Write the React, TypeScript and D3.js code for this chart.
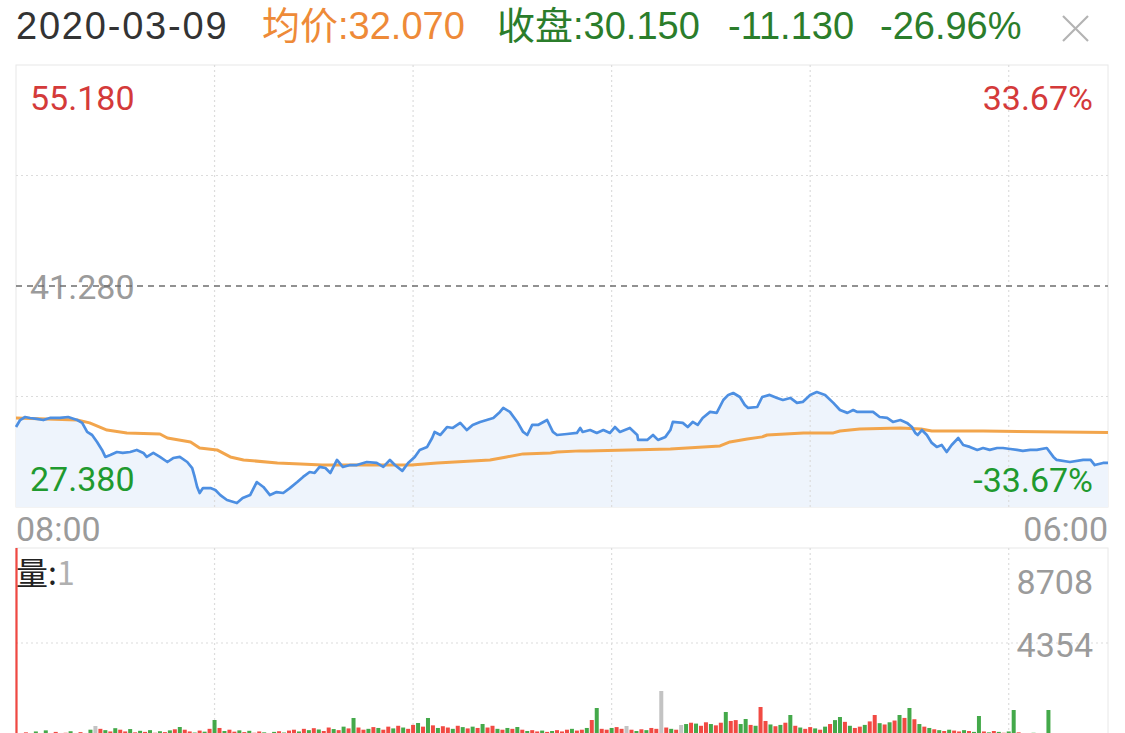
import React from 'react';
import * as d3 from 'd3';

// ---------- header values ----------
const headerDate = '2020-03-09';
const avgLabel = '均价:32.070';
const closeLabel = '收盘:30.150';
const changeLabel = '-11.130';
const pctLabel = '-26.96%';

// ---------- axis / tick labels ----------
const prevClose = 41.28;
const priceMax = 55.18;
const priceMin = 27.38;
const priceTickLabels = ['55.180', '41.280', '27.380'];
const pctTickLabels = ['33.67%', '-33.67%'];
const timeLabels = ['08:00', '06:00'];
const totalMinutes = 1320; // 08:00 -> 06:00 next day
const gridMinutes = [240, 480, 720, 960, 1200];
const volMax = 8708;
const volTickLabels = ['8708', '4354'];

// ---------- price series (minutes since 08:00, price) ----------
const priceMinutes = [0,5,11,17,25,33,41,53,63,74,80,86,92,98,104,108,114,122,129,138,146,154,158,166,174,183,190,198,207,213,216,219,222,226,235,241,247,255,267,274,283,291,299,307,315,323,331,340,347,355,361,367,374,380,388,395,404,412,424,436,444,452,458,467,474,482,488,497,503,506,513,521,528,537,545,552,561,569,577,585,589,597,606,613,618,624,631,642,649,654,666,678,682,685,694,702,710,718,724,730,742,751,752,763,770,776,785,791,794,806,812,818,824,830,839,847,855,861,867,875,881,885,896,902,911,920,927,936,944,951,960,968,978,988,996,1005,1012,1017,1024,1036,1044,1053,1060,1069,1077,1083,1087,1090,1095,1101,1107,1113,1119,1125,1131,1139,1145,1153,1162,1169,1177,1186,1193,1202,1210,1217,1226,1234,1246,1254,1258,1274,1290,1299,1304,1314,1320];
const prices = [32.41,32.85,33.04,32.98,32.92,32.85,32.98,32.98,33.04,32.85,32.67,32.10,31.91,31.47,30.97,30.53,30.65,30.84,30.78,30.84,30.97,30.78,30.53,30.78,30.53,30.21,30.46,30.53,30.21,29.83,29.27,28.64,28.26,28.57,28.57,28.45,28.13,27.82,27.63,27.94,28.13,28.95,28.64,28.13,28.32,28.26,28.57,28.95,29.27,29.58,29.52,29.90,29.83,29.52,30.34,29.90,30.02,30.02,30.21,30.15,29.90,30.34,30.02,29.65,30.15,30.53,30.97,31.16,31.72,32.10,31.91,32.41,32.35,32.67,32.22,32.54,32.73,32.85,32.98,33.36,33.61,33.36,32.73,32.10,31.91,32.54,32.54,32.85,32.10,31.91,31.97,32.04,32.35,32.10,32.22,32.04,32.22,32.04,32.41,32.10,32.35,31.91,31.60,31.60,31.91,31.60,31.79,32.22,32.73,32.67,32.41,32.73,32.54,32.98,33.36,33.30,34.11,34.43,34.55,34.30,33.80,33.61,33.67,34.30,34.43,34.24,34.11,34.24,33.93,33.99,34.43,34.61,34.43,33.93,33.48,33.30,33.48,33.36,33.36,33.36,33.04,32.98,32.73,32.85,32.67,32.41,32.04,31.91,32.22,31.91,31.41,31.16,31.28,30.84,31.28,31.72,31.28,31.16,30.97,31.09,30.97,31.09,31.09,31.03,30.97,30.91,30.97,30.97,31.09,30.53,30.34,30.21,30.34,30.34,30.02,30.15,30.15];

// ---------- average price series ----------
const avgMinutes = [0,74,89,110,134,174,183,211,222,243,259,275,316,344,370,453,478,509,573,593,613,646,654,682,690,791,851,863,884,902,908,952,988,996,1020,1069,1094,1107,1169,1320];
const avgPrices = [32.98,32.85,32.67,32.22,32.04,31.97,31.72,31.47,31.09,30.97,30.53,30.34,30.15,30.09,30.02,30.02,30.02,30.15,30.34,30.53,30.72,30.78,30.84,30.91,30.91,31.03,31.22,31.47,31.66,31.79,31.91,32.04,32.04,32.16,32.29,32.35,32.29,32.16,32.16,32.07];

// ---------- volume (6-minute bins) ----------
const volBinMinutes = 6;
const volumes = [8708,180,260,150,300,220,350,200,280,160,240,310,190,270,230,380,550,420,360,300,450,380,300,410,260,330,280,360,240,310,270,350,400,504,380,300,250,340,290,420,825,460,320,380,290,350,270,330,240,300,260,220,280,310,250,340,380,300,420,360,450,390,320,480,410,360,520,440,917,480,380,420,500,460,380,520,440,560,480,420,600,687,520,917,580,460,540,480,420,560,500,440,520,460,642,480,560,420,380,460,420,504,380,320,360,300,340,280,320,360,300,380,420,340,380,460,825,1375,420,380,460,500,420,550,380,320,400,360,460,420,2154,480,420,380,596,640,700,660,560,720,640,580,700,1192,780,820,640,871,600,560,1421,780,620,540,600,700,1054,560,480,420,500,440,380,520,640,820,962,740,560,460,520,600,760,1054,680,620,720,800,1054,920,1375,860,640,520,460,400,360,320,380,340,300,360,320,280,1008,300,260,320,280,240,300,1283,260,220,200,240,180,220,1283,200,160,140,180,120,150,200,140,180,220,160,200];
const volDirs = 'rgrrgrgrrg' + 'rggrrgnrgr' + 'grrgrgrgrg' + 'rgrgrrgrgr' + 'grgrrgrgrr' + 'grgrgrrgrg' + 'rgrrgrgrgr' + 'rgrgrrgrgr' + 'rgrgrgrrgr' + 'grgrgrrgrg' + 'rgrgrrgrgr' + 'rrgrrgrgrr' + 'grrnrgrgrr' + 'nrgrngrgrr' + 'grrgrrggrg' + 'rrgrgrgrgr' + 'rgrgrggrgr' + 'rgrrgrgrgr' + 'grgrgrgrgr' + 'rgrggrgrgr' + 'ggrgrgrggr' + 'grgrgrgrgr' + 'g';

const RED = '#d43a3a';
const GREEN = '#1f9a2f';
const GRAY = '#9b9b9b';
const BLUE = '#4d8fe2';
const ORANGE = '#f2a54c';
const GRID = '#dcdcdc';
const BORDER = '#e8e8e8';

export default function App() {
  const W = 1125, H = 733;
  const left = 16, right = 1108;
  const pTop = 65, pBottom = 507;
  const vTop = 548, vBottom = 738;

  const x = d3.scaleLinear().domain([0, totalMinutes]).range([left, right]);
  const y = d3.scaleLinear().domain([priceMin, priceMax]).range([pBottom, pTop]);
  const yv = d3.scaleLinear().domain([0, volMax]).range([vBottom, vTop]);

  const pts = priceMinutes.map((m, i) => [m, prices[i]] as [number, number]);
  const avgPts = avgMinutes.map((m, i) => [m, avgPrices[i]] as [number, number]);

  const line = d3.line<[number, number]>().x(d => x(d[0])).y(d => y(d[1]));
  const area = d3.area<[number, number]>().x(d => x(d[0])).y0(pBottom).y1(d => y(d[1]));

  const midLow = (prevClose + priceMin) / 2;
  const midHigh = (prevClose + priceMax) / 2;
  const volMid = volMax / 2;

  const numFont = 'Roboto, "Noto Sans", sans-serif';
  const headFont = '"Liberation Sans", "Noto Sans CJK SC", sans-serif';

  const barW = 4;

  return (
    <svg width={W} height={H} style={{ position: 'fixed', left: 0, top: 0, background: '#fff' }}>
      <rect x={0} y={0} width={W} height={H} fill="#fff" />
      {/* header */}
      <g fontFamily={headFont} fontSize={38}>
        <text x={16} y={39} fill="#333" letterSpacing={1.8}>{headerDate}</text>
        <text x={262} y={39} fill="#ee8a38">{avgLabel}</text>
        <text x={497} y={39} fill="#2b7d2b">{closeLabel}</text>
        <text x={728} y={39} fill="#2b7d2b">{changeLabel}</text>
        <text x={880} y={39} fill="#2b7d2b">{pctLabel}</text>
      </g>
      <g stroke="#b3b3b3" strokeWidth={2.2}>
        <line x1={1063} y1={16} x2={1088} y2={41} />
        <line x1={1088} y1={16} x2={1063} y2={41} />
      </g>

      {/* price panel */}
      <rect x={left} y={pTop} width={right - left} height={pBottom - pTop} fill="none" stroke={BORDER} strokeWidth={1} />
      <path d={area(pts) || ''} fill="#eef4fc" />
      {gridMinutes.map(m => (
        <line key={'vg' + m} x1={x(m)} x2={x(m)} y1={pTop} y2={pBottom} stroke={GRID} strokeWidth={1.2} strokeDasharray="2,3" />
      ))}
      {[midHigh, midLow].map(v => (
        <line key={'hg' + v} x1={left} x2={right} y1={y(v)} y2={y(v)} stroke={GRID} strokeWidth={1.2} strokeDasharray="2,3" />
      ))}
      <path d={line(avgPts) || ''} fill="none" stroke={ORANGE} strokeWidth={3} strokeLinejoin="round" />
      <path d={line(pts) || ''} fill="none" stroke={BLUE} strokeWidth={2.7} strokeLinejoin="round" />

      <g fontFamily={numFont} fontSize={34}>
        <text x={30} y={110} fill={RED}>{priceTickLabels[0]}</text>
        <text x={1093} y={110} fill={RED} textAnchor="end">{pctTickLabels[0]}</text>
        <text x={30} y={299} fill={GRAY}>{priceTickLabels[1]}</text>
        <text x={30} y={491} fill={GREEN}>{priceTickLabels[2]}</text>
        <text x={1093} y={492} fill={GREEN} textAnchor="end">{pctTickLabels[1]}</text>
        <text x={16} y={541} fill={GRAY}>{timeLabels[0]}</text>
        <text x={1108} y={541} fill={GRAY} textAnchor="end">{timeLabels[1]}</text>
      </g>
      <line x1={left} x2={right} y1={y(prevClose)} y2={y(prevClose)} stroke="#6e6e6e" strokeWidth={1.3} strokeDasharray="6,5" />

      {/* volume panel */}
      <rect x={left} y={vTop} width={right - left} height={vBottom - vTop} fill="none" stroke={BORDER} strokeWidth={1} />
      {gridMinutes.map(m => (
        <line key={'vvg' + m} x1={x(m)} x2={x(m)} y1={vTop} y2={vBottom} stroke={GRID} strokeWidth={1.2} strokeDasharray="2,3" />
      ))}
      <line x1={left} x2={right} y1={yv(volMid)} y2={yv(volMid)} stroke={GRID} strokeWidth={1.2} strokeDasharray="2,3" />
      {volumes.map((v, i) => {
        const d = volDirs[i];
        const c = d === 'r' ? '#ee2a22' : d === 'g' ? '#239a2a' : '#b8b8b8';
        const cx = x(i * volBinMinutes);
        const w = i === 0 ? 2.2 : barW;
        const bx = i === 0 ? left - 0.6 : cx - w / 2;
        return <rect key={'v' + i} x={bx} y={yv(v)} width={w} height={vBottom - yv(v)} fill={c} opacity={0.85} />;
      })}
      <text x={16} y={585} fontFamily='"Noto Sans CJK SC", sans-serif' fontSize={32}>
        <tspan fill="#222">量:</tspan><tspan fill="#b0b0b0">1</tspan>
      </text>
      <g fontFamily={numFont} fontSize={34} fill={GRAY} textAnchor="end">
        <text x={1093} y={594}>{volTickLabels[0]}</text>
        <text x={1093} y={657}>{volTickLabels[1]}</text>
      </g>
    </svg>
  );
}
